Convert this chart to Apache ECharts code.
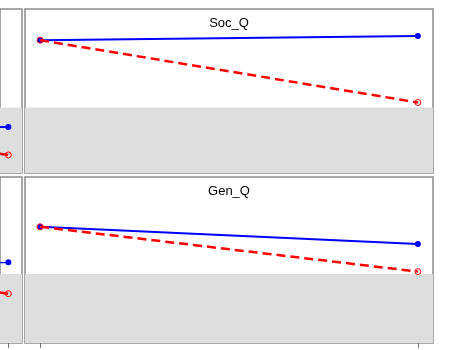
<!DOCTYPE html>
<html>
<head>
<meta charset="utf-8">
<script src="https://cdn.jsdelivr.net/npm/echarts@6/dist/echarts.min.js"></script>
<style>html,body{margin:0;padding:0;background:#fff;}#c{width:450px;height:350px;}</style>
</head>
<body>
<div id="c"></div>
<script>
// ---- data ----
var xValues = [0, 1];
var panelTitles = ['', 'Soc_Q', '', 'Gen_Q'];
var blueValues = [
  [28.5, 28.0],   // top-left (cropped)
  [81.0, 83.5],   // Soc_Q
  [49.0, 48.6],   // bottom-left (cropped)
  [70.0, 59.6]    // Gen_Q
];
var redValues = [
  [47.5, 11.0],
  [81.0, 43.0],
  [65.0, 29.7],
  [70.0, 43.0]
];
var bandTop = [40, 40, 41.5, 41.5];
var tickValues = [0, 1];

// ---- layout ----
// left panels are cropped: only their right-most 22px are visible
var grids = [
  {left: 0, top: 9, width: 22, height: 164, xmin: 0.978, xmax: 1.0362, dash: 4.5},
  {left: 25, top: 9, width: 408, height: 164, xmin: -0.04, xmax: 1.04, dash: 0},
  {left: 0, top: 177, width: 22, height: 166, xmin: 0.978, xmax: 1.0362, dash: 4.7},
  {left: 25, top: 177, width: 408, height: 166, xmin: -0.04, xmax: 1.04, dash: 0}
];
var bottomPanel = [false, false, true, true];

var chart = echarts.init(document.getElementById('c'));
var option = {
  animation: false,
  backgroundColor: '#ffffff',
  title: [],
  grid: [], xAxis: [], yAxis: [], series: []
};
grids.forEach(function (g, i) {
  option.grid.push({left: g.left, top: g.top, width: g.width, height: g.height,
    show: true, borderColor: '#8a8a8a', borderWidth: 1.5, backgroundColor: 'transparent'});
  option.xAxis.push({
    type: 'value', gridIndex: i, min: g.xmin, max: g.xmax,
    axisLine: {show: false}, splitLine: {show: false},
    axisLabel: {show: false},
    axisTick: {show: bottomPanel[i], customValues: tickValues, length: 5,
      lineStyle: {color: '#777', width: 1}}
  });
  option.yAxis.push({
    type: 'value', gridIndex: i, min: 0, max: 100,
    axisLine: {show: false}, splitLine: {show: false},
    axisLabel: {show: false}, axisTick: {show: false}
  });
  var pts = function (vals) { return xValues.map(function (x, k) { return [x, vals[k]]; }); };
  option.series.push({
    type: 'line', xAxisIndex: i, yAxisIndex: i, data: pts(blueValues[i]),
    symbol: 'circle', symbolSize: 6, clip: true,
    itemStyle: {color: '#0000ff'},
    lineStyle: {color: '#0000ff', width: 2},
    z: 3,
    markArea: {silent: true, itemStyle: {color: '#dedede'},
      data: [[{yAxis: 0}, {yAxis: bandTop[i]}]], z: 1}
  });
  option.series.push({
    type: 'line', xAxisIndex: i, yAxisIndex: i, data: pts(redValues[i]),
    symbol: 'circle', symbolSize: 6, clip: true,
    itemStyle: {color: 'rgba(255,255,255,0)', borderColor: '#ff0000', borderWidth: 1},
    lineStyle: {color: '#ff0000', width: 2.5, type: [9, 5], dashOffset: g.dash},
    z: 4
  });
  if (panelTitles[i]) {
    option.title.push({
      text: panelTitles[i], left: g.left + g.width / 2 - 5, top: g.top + 3,
      textAlign: 'center',
      textStyle: {fontFamily: 'Liberation Sans, Arial, sans-serif', fontSize: 13,
        fontWeight: 'normal', color: '#000'}
    });
  }
});
chart.setOption(option);
</script>
</body>
</html>
